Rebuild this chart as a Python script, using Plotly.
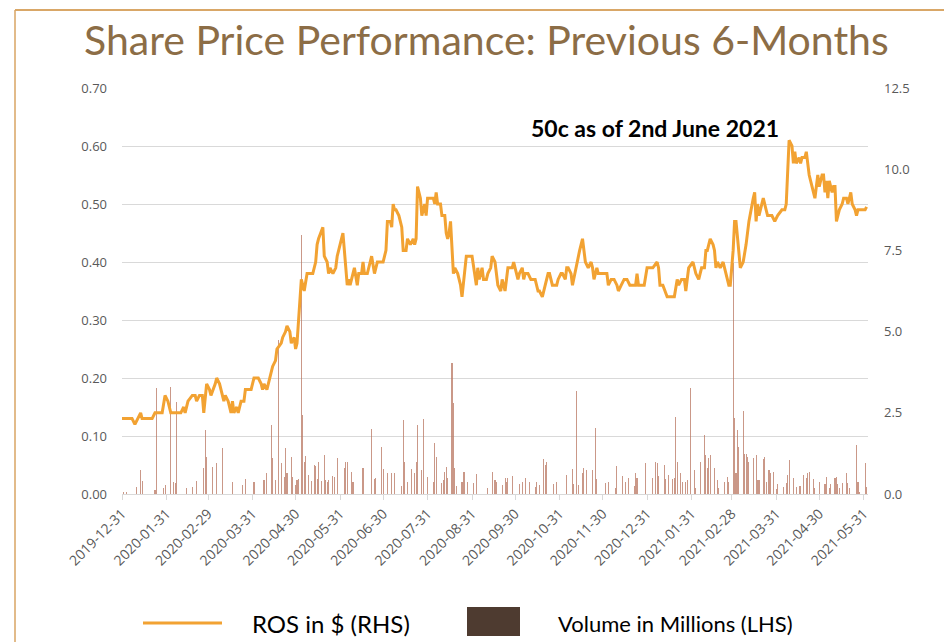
import plotly.graph_objects as go

# ---------------- data ----------------
price_dates = [
    "2019-12-31","2020-01-07","2020-01-09","2020-01-11","2020-01-13","2020-01-14","2020-01-21","2020-01-23","2020-01-28","2020-01-30",
    "2020-02-01","2020-02-03","2020-02-10","2020-02-12","2020-02-13","2020-02-15","2020-02-18","2020-02-20","2020-02-21","2020-02-23",
    "2020-02-25","2020-02-26","2020-02-28","2020-03-01","2020-03-02","2020-03-05","2020-03-06","2020-03-08","2020-03-09","2020-03-11",
    "2020-03-12","2020-03-14","2020-03-16","2020-03-17","2020-03-18","2020-03-20","2020-03-21","2020-03-23","2020-03-25","2020-03-26",
    "2020-03-30","2020-04-01","2020-04-04","2020-04-06","2020-04-07","2020-04-08","2020-04-10","2020-04-12","2020-04-14","2020-04-16",
    "2020-04-17","2020-04-20","2020-04-21","2020-04-23","2020-04-24","2020-04-26","2020-04-27","2020-04-29","2020-04-30","2020-05-01",
    "2020-05-03","2020-05-04","2020-05-06","2020-05-08","2020-05-12","2020-05-13","2020-05-14","2020-05-15","2020-05-16","2020-05-19",
    "2020-05-20","2020-05-22","2020-05-23","2020-05-24","2020-05-26","2020-05-28","2020-05-29","2020-05-31","2020-06-02","2020-06-03",
    "2020-06-05","2020-06-06","2020-06-07","2020-06-09","2020-06-10","2020-06-12","2020-06-13","2020-06-15","2020-06-16","2020-06-17",
    "2020-06-19","2020-06-21","2020-06-22","2020-06-24","2020-06-26","2020-06-30","2020-07-02","2020-07-03","2020-07-05","2020-07-06",
    "2020-07-07","2020-07-08","2020-07-09","2020-07-11","2020-07-13","2020-07-14","2020-07-16","2020-07-17","2020-07-19","2020-07-21",
    "2020-07-22","2020-07-23","2020-07-24","2020-07-26","2020-07-27","2020-07-29","2020-07-30","2020-07-31","2020-08-04","2020-08-05",
    "2020-08-06","2020-08-07","2020-08-09","2020-08-10","2020-08-12","2020-08-13","2020-08-14","2020-08-15","2020-08-16","2020-08-18",
    "2020-08-19","2020-08-21","2020-08-23","2020-08-24","2020-08-26","2020-08-27","2020-08-31","2020-09-02","2020-09-03","2020-09-04",
    "2020-09-05","2020-09-07","2020-09-08","2020-09-10","2020-09-11","2020-09-13","2020-09-14","2020-09-16","2020-09-17","2020-09-18",
    "2020-09-20","2020-09-21","2020-09-23","2020-09-24","2020-09-25","2020-09-28","2020-09-29","2020-09-30","2020-10-02","2020-10-03",
    "2020-10-05","2020-10-06","2020-10-07","2020-10-09","2020-10-11","2020-10-14","2020-10-16","2020-10-17","2020-10-19","2020-10-21",
    "2020-10-23","2020-10-24","2020-10-26","2020-10-29","2020-10-30","2020-11-01","2020-11-02","2020-11-04","2020-11-05","2020-11-06",
    "2020-11-08","2020-11-09","2020-11-12","2020-11-14","2020-11-16","2020-11-18","2020-11-20","2020-11-22","2020-11-23","2020-11-24",
    "2020-11-26","2020-11-27","2020-12-03","2020-12-04","2020-12-06","2020-12-08","2020-12-10","2020-12-11","2020-12-13","2020-12-15",
    "2020-12-17","2020-12-19","2020-12-23","2020-12-24","2020-12-25","2020-12-29","2020-12-31","2021-01-04","2021-01-07","2021-01-08",
    "2021-01-09","2021-01-11","2021-01-14","2021-01-19","2021-01-21","2021-01-22","2021-01-24","2021-01-26","2021-01-27","2021-01-29",
    "2021-02-01","2021-02-02","2021-02-03","2021-02-05","2021-02-07","2021-02-09","2021-02-10","2021-02-11","2021-02-13","2021-02-15",
    "2021-02-16","2021-02-17","2021-02-18","2021-02-20","2021-02-22","2021-02-23","2021-02-24","2021-02-26","2021-02-27","2021-03-01",
    "2021-03-02","2021-03-03","2021-03-06","2021-03-08","2021-03-10","2021-03-12","2021-03-15","2021-03-16","2021-03-17","2021-03-18",
    "2021-03-19","2021-03-21","2021-03-22","2021-03-24","2021-03-25","2021-03-28","2021-03-30","2021-04-01","2021-04-04","2021-04-06",
    "2021-04-07","2021-04-09","2021-04-11","2021-04-12","2021-04-13","2021-04-14","2021-04-16","2021-04-17","2021-04-18","2021-04-20",
    "2021-04-21","2021-04-22","2021-04-23","2021-04-25","2021-04-27","2021-04-28","2021-04-29","2021-04-30","2021-05-02","2021-05-03",
    "2021-05-04","2021-05-05","2021-05-06","2021-05-07","2021-05-09","2021-05-10","2021-05-11","2021-05-12","2021-05-14","2021-05-16",
    "2021-05-17","2021-05-19","2021-05-20","2021-05-22","2021-05-23","2021-05-25","2021-05-26","2021-05-27","2021-06-01","2021-06-02",
]
price_values = [
    0.13,0.13,0.12,0.13,0.14,0.13,0.13,0.14,0.14,0.17,
    0.16,0.14,0.14,0.15,0.14,0.16,0.17,0.17,0.16,0.17,
    0.17,0.14,0.19,0.18,0.17,0.19,0.20,0.19,0.18,0.16,
    0.17,0.16,0.14,0.16,0.14,0.15,0.14,0.16,0.16,0.18,
    0.18,0.20,0.20,0.19,0.18,0.19,0.18,0.20,0.22,0.23,
    0.25,0.26,0.27,0.28,0.29,0.28,0.26,0.27,0.25,0.26,
    0.33,0.37,0.35,0.38,0.38,0.39,0.40,0.43,0.44,0.46,
    0.41,0.40,0.38,0.39,0.38,0.39,0.41,0.43,0.45,0.42,
    0.36,0.37,0.36,0.38,0.39,0.36,0.38,0.38,0.40,0.38,
    0.38,0.40,0.41,0.38,0.40,0.40,0.42,0.47,0.47,0.46,
    0.50,0.49,0.49,0.48,0.46,0.42,0.42,0.44,0.43,0.44,
    0.43,0.44,0.53,0.51,0.48,0.50,0.48,0.51,0.51,0.50,
    0.52,0.50,0.50,0.48,0.48,0.45,0.44,0.45,0.47,0.38,
    0.39,0.38,0.36,0.34,0.39,0.41,0.41,0.38,0.36,0.39,
    0.37,0.39,0.37,0.37,0.38,0.39,0.41,0.40,0.38,0.36,
    0.35,0.37,0.35,0.37,0.39,0.39,0.40,0.39,0.37,0.38,
    0.39,0.37,0.38,0.38,0.37,0.37,0.35,0.35,0.34,0.36,
    0.38,0.38,0.36,0.36,0.37,0.38,0.38,0.37,0.39,0.39,
    0.38,0.36,0.40,0.42,0.44,0.40,0.39,0.40,0.39,0.37,
    0.39,0.38,0.38,0.36,0.37,0.37,0.36,0.35,0.36,0.37,
    0.37,0.36,0.36,0.38,0.36,0.36,0.39,0.39,0.40,0.39,
    0.36,0.36,0.34,0.34,0.37,0.36,0.37,0.37,0.35,0.39,
    0.40,0.39,0.38,0.37,0.39,0.39,0.42,0.42,0.44,0.43,
    0.42,0.39,0.40,0.39,0.40,0.39,0.38,0.36,0.36,0.42,
    0.47,0.47,0.39,0.40,0.43,0.47,0.51,0.52,0.47,0.50,
    0.48,0.50,0.51,0.49,0.48,0.48,0.47,0.48,0.49,0.49,
    0.50,0.61,0.60,0.57,0.59,0.57,0.58,0.57,0.58,0.58,
    0.59,0.57,0.55,0.53,0.51,0.53,0.55,0.53,0.55,0.55,
    0.52,0.54,0.51,0.54,0.52,0.53,0.53,0.47,0.49,0.50,
    0.51,0.51,0.50,0.52,0.50,0.49,0.48,0.49,0.49,0.495,
]

volume_dates = [
    "2020-01-01","2020-01-03","2020-01-10","2020-01-13","2020-01-14","2020-01-23","2020-01-24","2020-01-29","2020-01-30","2020-02-03",
    "2020-02-05","2020-02-06","2020-02-07","2020-02-14","2020-02-18","2020-02-21","2020-02-26","2020-02-27","2020-02-28","2020-03-03",
    "2020-03-06","2020-03-10","2020-03-17","2020-03-24","2020-03-26","2020-04-01","2020-04-08","2020-04-10","2020-04-13","2020-04-14",
    "2020-04-16","2020-04-18","2020-04-20","2020-04-22","2020-04-23","2020-04-24","2020-04-27","2020-04-28","2020-04-30","2020-05-01",
    "2020-05-02","2020-05-04","2020-05-05","2020-05-06","2020-05-07","2020-05-09","2020-05-11","2020-05-13","2020-05-14","2020-05-15",
    "2020-05-16","2020-05-18","2020-05-20","2020-05-21","2020-05-22","2020-05-23","2020-05-26","2020-05-27","2020-05-29","2020-06-03",
    "2020-06-04","2020-06-05","2020-06-08","2020-06-09","2020-06-16","2020-06-22","2020-06-24","2020-06-25","2020-06-29","2020-06-30",
    "2020-07-03","2020-07-06","2020-07-08","2020-07-13","2020-07-14","2020-07-15","2020-07-17","2020-07-20","2020-07-22","2020-07-23",
    "2020-07-24","2020-07-27","2020-07-28","2020-07-31","2020-08-04","2020-08-05","2020-08-06","2020-08-10","2020-08-11","2020-08-12",
    "2020-08-13","2020-08-14","2020-08-17","2020-08-18","2020-08-19","2020-08-20","2020-08-24","2020-08-25","2020-08-26","2020-08-28",
    "2020-09-01","2020-09-03","2020-09-11","2020-09-14","2020-09-16","2020-09-17","2020-09-21","2020-09-23","2020-09-24","2020-09-25",
    "2020-09-28","2020-10-03","2020-10-05","2020-10-07","2020-10-10","2020-10-14","2020-10-15","2020-10-17","2020-10-20","2020-10-21",
    "2020-10-22","2020-10-27","2020-10-29","2020-11-05","2020-11-09","2020-11-10","2020-11-12","2020-11-13","2020-11-16","2020-11-17",
    "2020-11-19","2020-11-23","2020-11-25","2020-11-26","2020-12-02","2020-12-04","2020-12-09","2020-12-10","2020-12-14","2020-12-16",
    "2020-12-18","2020-12-22","2020-12-23","2020-12-24","2020-12-30","2021-01-04","2021-01-06","2021-01-07","2021-01-08","2021-01-12",
    "2021-01-13","2021-01-15","2021-01-18","2021-01-19","2021-01-20","2021-01-21","2021-01-23","2021-01-25","2021-01-27","2021-01-28",
    "2021-01-30","2021-02-02","2021-02-03","2021-02-06","2021-02-09","2021-02-10","2021-02-11","2021-02-12","2021-02-13","2021-02-16",
    "2021-02-18","2021-02-19","2021-02-23","2021-02-25","2021-02-26","2021-03-01","2021-03-02","2021-03-03","2021-03-04","2021-03-05",
    "2021-03-08","2021-03-09","2021-03-10","2021-03-11","2021-03-12","2021-03-15","2021-03-17","2021-03-18","2021-03-19","2021-03-22",
    "2021-03-23","2021-03-24","2021-03-26","2021-03-27","2021-03-29","2021-03-31","2021-04-01","2021-04-05","2021-04-07","2021-04-08",
    "2021-04-09","2021-04-12","2021-04-14","2021-04-16","2021-04-17","2021-04-19","2021-04-21","2021-04-22","2021-04-23","2021-04-26",
    "2021-04-27","2021-04-30","2021-05-04","2021-05-05","2021-05-07","2021-05-08","2021-05-11","2021-05-12","2021-05-13","2021-05-14",
    "2021-05-16","2021-05-19","2021-05-20","2021-05-21","2021-05-26","2021-05-27","2021-05-28","2021-06-01","2021-06-02",
]
volume_values = [
    0.07,0.07,0.23,0.74,0.40,0.12,3.25,0.17,0.28,3.30,
    0.36,0.33,2.84,0.20,0.23,0.40,0.79,1.97,1.15,0.84,
    0.94,1.41,0.38,0.28,0.46,0.38,0.43,0.66,2.12,1.10,
    0.43,4.74,0.94,0.53,1.41,0.64,1.15,0.53,0.28,0.43,
    0.46,7.97,2.43,1.00,1.17,0.58,0.40,0.89,0.86,0.45,
    0.98,0.40,1.20,0.43,0.36,0.43,0.56,0.52,1.10,0.81,
    0.97,1.00,0.69,0.36,0.79,2.00,0.46,0.50,1.46,0.77,
    0.64,0.66,0.66,0.26,2.28,0.97,0.38,0.77,0.66,0.97,
    2.12,0.74,2.30,0.52,0.38,1.58,1.15,0.33,0.43,0.69,
    0.84,0.48,4.04,2.79,0.79,0.25,0.38,0.69,0.69,0.38,
    0.33,0.61,0.17,0.69,0.43,0.36,0.28,0.48,0.36,0.48,
    0.56,0.31,0.38,0.48,0.38,0.21,0.38,0.28,1.07,0.89,
    1.00,0.31,0.38,0.58,0.77,0.31,3.18,0.28,0.66,0.79,
    0.74,0.74,2.03,0.45,0.33,0.38,0.17,0.87,0.56,0.36,
    0.48,0.25,0.66,0.48,0.94,0.48,0.97,0.94,0.56,0.89,
    0.45,0.58,0.45,0.48,2.38,1.00,0.66,0.36,0.38,0.43,
    3.27,0.74,0.17,1.00,1.82,1.20,0.79,1.10,1.20,0.79,
    0.43,0.17,0.36,0.53,0.38,7.12,2.35,0.64,1.97,1.46,
    2.55,1.24,1.24,1.14,1.00,1.10,1.20,0.42,0.43,1.08,
    1.15,0.38,0.74,0.64,0.69,0.15,0.31,0.23,0.33,0.58,
    1.05,0.48,0.23,0.25,0.25,0.58,0.48,0.66,0.69,0.45,
    0.17,0.36,0.31,0.51,0.17,0.31,0.48,0.51,0.31,0.17,
    0.33,0.64,0.33,0.20,1.51,0.36,0.07,0.94,0.23,
]

month_ticks = [
    "2019-12-31","2020-01-31","2020-02-29","2020-03-31","2020-04-30","2020-05-31","2020-06-30",
    "2020-07-31","2020-08-31","2020-09-30","2020-10-31","2020-11-30","2020-12-31","2021-01-31",
    "2021-02-28","2021-03-31","2021-04-30","2021-05-31",
]

title_text = "Share Price Performance: Previous 6-Months"
note_text = "50c as of 2nd June 2021"
line_name = "ROS in $ (RHS)"
bar_name = "Volume in Millions (LHS)"

# ---------------- figure ----------------
W, H = 944, 642
L, R, T, B = 122, 76, 88, 148
pw, ph = W - L - R, H - T - B


def px_x(p):
    return (p - L) / pw


def px_y(p):
    return (H - B - p) / ph


fig = go.Figure()
fig.add_trace(go.Bar(
    x=volume_dates, y=volume_values, name=bar_name, yaxis="y",
    marker=dict(color="rgba(184,118,96,0.75)", line=dict(width=0)),
    width=0.75 * 86400000, showlegend=False,
))
fig.add_trace(go.Scatter(
    x=price_dates, y=price_values, name=line_name, yaxis="y2", mode="lines",
    line=dict(color="#F2A232", width=3), showlegend=False,
))

tick_font = dict(family="Open Sans, sans-serif", size=13, color="#595959")
xtick_font = dict(family="Open Sans, sans-serif", size=14, color="#595959")

fig.update_layout(
    width=W, height=H,
    margin=dict(l=L, r=R, t=T, b=B, pad=0),
    paper_bgcolor="white", plot_bgcolor="white",
    bargap=0,
    xaxis=dict(
        type="date", range=["2019-12-31", "2021-06-03"],
        tickvals=month_ticks, ticktext=month_ticks, tickangle=-45,
        tickfont=xtick_font, showgrid=False, showline=True, linecolor="#D9D9D9", linewidth=1,
        ticks="outside", ticklen=5, tickcolor="#D9D9D9", zeroline=False,
    ),
    yaxis=dict(
        side="right", range=[0, 12.5], tickvals=[0, 2.5, 5, 7.5, 10, 12.5], tickformat=".1f",
        tickfont=tick_font, showgrid=False, zeroline=False, showline=False,
        ticks="", ticklabelstandoff=15,
    ),
    yaxis2=dict(
        overlaying="y", side="left", range=[0, 0.7], tickvals=[0, 0.1, 0.2, 0.3, 0.4, 0.5, 0.6, 0.7],
        tickformat=".2f", tickfont=tick_font, showgrid=True, gridcolor="#D9D9D9", gridwidth=1,
        zeroline=False, showline=False, ticks="", ticklabelstandoff=14,
    ),
    showlegend=False,
)

# Title
fig.add_annotation(
    text=title_text, xref="paper", yref="paper", x=px_x(486), y=px_y(40),
    xanchor="center", yanchor="middle", showarrow=False,
    font=dict(family="Lato, sans-serif", size=41, color="#8C6D46", weight=400),
)
# Note
fig.add_annotation(
    text="<b>" + note_text + "</b>", xref="paper", yref="paper", x=px_x(655), y=px_y(128),
    xanchor="center", yanchor="middle", showarrow=False,
    font=dict(family="Lato, sans-serif", size=23, color="#000000"),
)

# Legend drawn manually
fig.add_shape(type="line", xref="paper", yref="paper",
              x0=px_x(143), x1=px_x(222), y0=px_y(623), y1=px_y(623),
              line=dict(color="#F2A232", width=3))
fig.add_annotation(text=line_name, xref="paper", yref="paper", x=px_x(250), y=px_y(623),
                   xanchor="left", yanchor="middle", showarrow=False,
                   font=dict(family="Lato, sans-serif", size=24, color="#000000"))
fig.add_shape(type="rect", xref="paper", yref="paper",
              x0=px_x(467), x1=px_x(520), y0=px_y(636), y1=px_y(607),
              fillcolor="#4E3B30", line=dict(width=0))
fig.add_annotation(text=bar_name, xref="paper", yref="paper", x=px_x(556), y=px_y(623),
                   xanchor="left", yanchor="middle", showarrow=False,
                   font=dict(family="Lato, sans-serif", size=22, color="#000000"))

# Frame
fig.add_shape(type="line", xref="paper", yref="paper",
              x0=px_x(15), x1=px_x(946), y0=px_y(10), y1=px_y(10),
              line=dict(color="#CC8A35", width=1.5))
fig.add_shape(type="line", xref="paper", yref="paper",
              x0=px_x(15), x1=px_x(15), y0=px_y(10), y1=px_y(660),
              line=dict(color="#D9A463", width=1.5))

fig.write_html("out.html", config={"displayModeBar": False},
               post_script="document.body.style.margin='0px';")
